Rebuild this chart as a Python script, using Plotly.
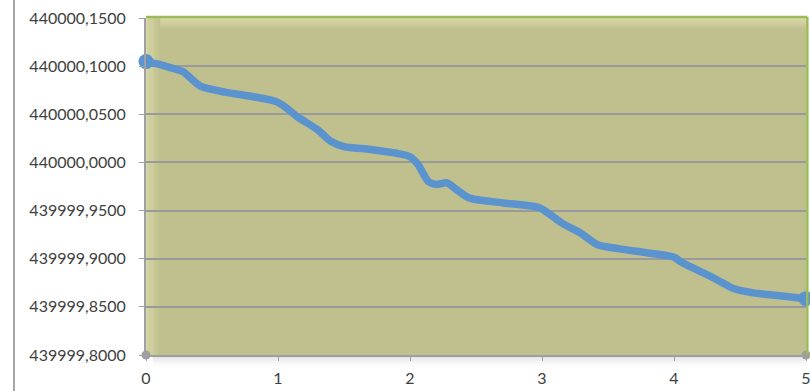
import plotly.graph_objects as go

# Position along the profile and measured value
x_vals = [0, 0.1, 0.2, 0.28, 0.35, 0.42, 0.6, 0.8, 0.98, 1.06, 1.15, 1.3, 1.4, 1.5,
          1.7, 1.9, 2.0, 2.06, 2.14, 2.2, 2.28, 2.35, 2.45, 2.7, 2.98, 3.06, 3.15,
          3.3, 3.42, 3.6, 3.8, 4.0, 4.06, 4.15, 4.3, 4.45, 4.6, 4.8, 5.0]
y_offsets = [0.1047, 0.1019, 0.0978, 0.0943, 0.0860, 0.0787, 0.0730, 0.0685, 0.0635,
             0.0570, 0.0470, 0.0340, 0.0220, 0.0165, 0.0135, 0.0095, 0.0060, -0.0020,
             -0.0200, -0.0230, -0.0212, -0.0280, -0.0370, -0.0420, -0.0471, -0.0540,
             -0.0630, -0.0740, -0.0855, -0.0900, -0.0940, -0.0985, -0.1040, -0.1100,
             -0.1200, -0.1310, -0.1355, -0.1385, -0.1415]
base = 440000.0
y_vals = [base + v for v in y_offsets]

y_range = [439999.80, 440000.15]
y_ticks = [439999.80, 439999.85, 439999.90, 439999.95, 440000.00, 440000.05, 440000.10, 440000.15]
y_tick_text = ["439999,8000", "439999,8500", "439999,9000", "439999,9500",
               "440000,0000", "440000,0500", "440000,1000", "440000,1500"]
x_ticks = [0, 1, 2, 3, 4, 5]

line_blue = "#5B93CF"
font = dict(family="Lato, 'Open Sans', sans-serif", size=16, color="#404040")

fig = go.Figure()

# main profile line
fig.add_trace(go.Scatter(
    x=x_vals, y=y_vals, mode="lines",
    line=dict(color=line_blue, width=7.5, shape="spline", smoothing=0.7),
    hoverinfo="skip", showlegend=False, cliponaxis=False,
))
# end points
fig.add_trace(go.Scatter(
    x=[x_vals[0], x_vals[-1]], y=[y_vals[0], y_vals[-1]], mode="markers",
    marker=dict(color=line_blue, size=15),
    showlegend=False, cliponaxis=False,
))
# markers on the axis corners
fig.add_trace(go.Scatter(
    x=[x_ticks[0], x_ticks[-1]], y=[y_range[0], y_range[0]], mode="markers",
    marker=dict(color="#A0A0A0", size=9),
    showlegend=False, cliponaxis=False,
))

shapes = []
# lit edge on the left and top of the plotting area (fading gradient)
n = 12
light = (216, 216, 170)
fill = (192, 192, 142)
for i in range(n):
    t = i / (n - 1)
    r = round(light[0] + (fill[0] - light[0]) * t)
    g = round(light[1] + (fill[1] - light[1]) * t)
    b = round(light[2] + (fill[2] - light[2]) * t)
    c = f"rgb({r},{g},{b})"
    shapes.append(dict(type="rect", xref="paper", yref="paper", layer="below",
                       x0=i * 0.0018, x1=(i + 1) * 0.0018, y0=0, y1=1,
                       fillcolor=c, line=dict(width=0)))
    shapes.append(dict(type="rect", xref="paper", yref="paper", layer="below",
                       x0=0.02, x1=1, y0=1 - (i + 1) * 0.003, y1=1 - i * 0.003,
                       fillcolor=c, line=dict(width=0)))
# soft shadow under the plotting area
for i, a in enumerate([0.22, 0.14, 0.08, 0.04]):
    shapes.append(dict(type="rect", xref="paper", yref="paper", layer="below",
                       x0=0.01, x1=1.0, y0=-(i + 1) * 0.008, y1=-i * 0.008,
                       fillcolor=f"rgba(120,120,120,{a})", line=dict(width=0)))
# green frame on top and right
shapes.append(dict(type="line", xref="paper", yref="paper", x0=0, x1=1.002, y0=1.003, y1=1.003,
                   line=dict(color="#9BBB59", width=2.5)))
shapes.append(dict(type="line", xref="paper", yref="paper", x0=1.002, x1=1.002, y0=0, y1=1.003,
                   line=dict(color="#9BBB59", width=2.5)))
# outer frame line at the far left
shapes.append(dict(type="line", xref="paper", yref="paper", x0=-0.2, x1=-0.2, y0=-0.2, y1=1.1,
                   line=dict(color="#A6A6A6", width=2)))

fig.update_layout(
    width=810, height=391,
    margin=dict(l=146, r=4, t=18, b=36, autoexpand=False),
    paper_bgcolor="white", plot_bgcolor="#C0C08E",
    font=font, shapes=shapes, showlegend=False,
    xaxis=dict(range=[0, 5], tickvals=x_ticks, ticktext=[str(t) for t in x_ticks],
               showgrid=False, zeroline=False, showline=True, linecolor="#A0A0A0", linewidth=2,
               ticks="outside", ticklen=4, tickcolor="#A0A0A0", tickwidth=1, tickfont=font,
               ticklabeloverflow="allow", ticklabelstandoff=4, automargin=False),
    yaxis=dict(range=y_range, tickvals=y_ticks, ticktext=y_tick_text,
               showgrid=True, gridcolor="#9A9A9A", gridwidth=2, zeroline=False,
               showline=True, linecolor="#A0A0A0", linewidth=2,
               ticks="outside", ticklen=5, tickcolor="#A0A0A0", tickwidth=1,
               ticklabelstandoff=10, tickfont=font, automargin=False),
)

fig.write_html("out.html")
